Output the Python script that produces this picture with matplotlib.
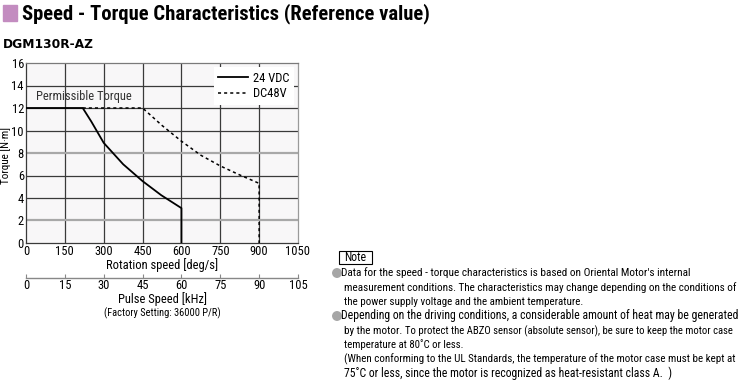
import matplotlib
matplotlib.use("Agg")
import matplotlib.pyplot as plt
from matplotlib.patches import Rectangle, Ellipse
from matplotlib import font_manager as fm

# ---------------- data ----------------
speed_24 = [0, 219, 252, 300, 375, 450, 522, 600, 600]
torque_24 = [12, 12, 10.8, 8.9, 7.0, 5.5, 4.25, 3.1, 0]
speed_48 = [219, 450, 525, 600, 675, 750, 825, 900, 900]
torque_48 = [12, 12, 10.45, 9.05, 7.8, 6.85, 6.05, 5.3, 0]
x_ticks = [0, 150, 300, 450, 600, 750, 900, 1050]
y_ticks = [0, 2, 4, 6, 8, 10, 12, 14, 16]
pulse_ticks = [0, 15, 30, 45, 60, 75, 90, 105]
series_labels = ["24 VDC", "DC48V"]

W, H = 747, 389
names = {f.name for f in fm.fontManager.ttflist}
cands = ["Roboto Condensed", "Archivo Narrow", "PT Sans Narrow",
         "Liberation Sans Narrow", "Asap Condensed", "Barlow Condensed"]
NARROW = [c for c in cands if c in names][:1]
FAM = NARROW + ["Liberation Sans", "DejaVu Sans"]
plt.rcParams['font.family'] = FAM

fig = plt.figure(figsize=(W / 100, H / 100), dpi=100)
fig.patch.set_facecolor("white")
renderer = fig.canvas.get_renderer()


def px(x, y):
    return x / W, 1 - y / H


def fit_text(x, y, s, width_px, size, **kw):
    t = fig.text(*px(x, y), s, fontsize=size, **kw)
    bb = t.get_window_extent(renderer=renderer)
    if bb.width > 0:
        t.set_fontsize(size * width_px / bb.width)
    return t


FS = 9

# ---------------- main axes ----------------
L, R, T, B = 26, 298, 63, 243
ax = fig.add_axes([L / W, 1 - B / H, (R - L) / W, (B - T) / H])
ax.set_facecolor("#f8f7f8")
ax.set_xlim(0, 1050)
ax.set_ylim(0, 16)
ax.set_xticks(x_ticks)
ax.set_yticks(y_ticks)
ax.set_xticklabels([str(v) for v in x_ticks], fontsize=FS)
ax.set_yticklabels([str(v) for v in y_ticks], fontsize=FS)
ax.tick_params(length=0, pad=1.5)
for v in x_ticks[1:-1]:
    ax.axvline(v, color="#3a3a3a", lw=0.9, zorder=1)
for v in y_ticks[1:-1]:
    if v in (2, 8):
        ax.axhline(v, color="#a8a8a8", lw=1.6, zorder=1)
    else:
        ax.axhline(v, color="#3a3a3a", lw=0.9, zorder=1)
for s in ax.spines.values():
    s.set_color("#3a3a3a")
    s.set_linewidth(0.9)
ax.spines["right"].set_color("#9a9a9a")
ax.spines["top"].set_color("#7a7a7a")

l1, = ax.plot(speed_24, torque_24, color="black", lw=1.3, zorder=3,
              solid_joinstyle="round")
l2, = ax.plot(speed_48, torque_48, color="black", lw=1.1, ls=(0, (2, 2)),
              zorder=3)
ax.text(225, 12.45, "Permissible Torque", fontsize=FS, ha="center",
        va="bottom", color="#333333", zorder=4)

leg = ax.legend([l1, l2], series_labels, loc="upper right", fontsize=FS,
                frameon=True, fancybox=False, handlelength=2.4,
                handletextpad=0.4, borderpad=0.35, labelspacing=0.2,
                borderaxespad=0.35)
leg.get_frame().set_facecolor("white")
leg.get_frame().set_edgecolor("none")
leg.get_frame().set_alpha(1)

fig.text(*px(6, 155), "Torque [N·m]", fontsize=8, rotation=90,
         ha="center", va="center")
fig.text(*px(162, 265), "Rotation speed [deg/s]", fontsize=FS,
         ha="center", va="center")

# ---------------- pulse speed axis ----------------
ax2 = fig.add_axes([L / W, 1 - 278 / H, (R - L) / W, 0.0001])
ax2.set_xlim(0, 105)
ax2.set_xticks(pulse_ticks)
ax2.set_xticklabels([str(v) for v in pulse_ticks], fontsize=FS)
ax2.set_yticks([])
for k in ("left", "right", "top"):
    ax2.spines[k].set_visible(False)
ax2.spines["bottom"].set_color("#888888")
ax2.spines["bottom"].set_linewidth(1.0)
ax2.tick_params(axis="x", direction="in", length=3, color="#888888", pad=1)
ax2.patch.set_visible(False)
fig.text(*px(162, 299), "Pulse Speed [kHz]", fontsize=FS, ha="center",
         va="center")
fig.text(*px(162, 313), "(Factory Setting: 36000 P/R)", fontsize=7.5,
         ha="center", va="center")

# ---------------- titles ----------------
fig.patches.append(Rectangle(px(3, 21), 14 / W, 16 / H, color="#c38cc0",
                             transform=fig.transFigure, figure=fig))
fit_text(22, 13.5, "Speed - Torque Characteristics (Reference value)", 408, 15,
         fontweight="bold", va="center", ha="left")
fit_text(3, 45, "DGM130R-AZ", 92, 9.5, fontweight="bold", va="center",
         ha="left", family=["DejaVu Sans"])

# ---------------- notes ----------------
fig.patches.append(Rectangle(px(339, 264), 33 / W, 13 / H, facecolor="white",
                             edgecolor="black", lw=0.8,
                             transform=fig.transFigure, figure=fig))
fig.text(*px(355.5, 257.5), "Note", fontsize=8.5, ha="center", va="center")

for yb in (273, 316):
    fig.patches.append(Ellipse(px(337, yb), 8.5 / W, 8.5 / H, color="#a6a6a6",
                               transform=fig.transFigure, figure=fig))

lines = [
    (341, 273, "Data for the speed - torque characteristics is based on Oriental Motor's internal", 351),
    (344, 288, "measurement conditions. The characteristics may change depending on the conditions of", 394),
    (344, 302, "the power supply voltage and the ambient temperature.", 239),
    (341, 316, "Depending on the driving conditions, a considerable amount of heat may be generated", 397),
    (344, 345, "temperature at 80˚C or less.", 119),
    (344, 359, "(When conforming to the UL Standards, the temperature of the motor case must be kept at", 394),
    (344, 373, "75˚C or less, since the motor is recognized as heat-resistant class A.  )", 328),
]
for x, y, s, w in lines:
    fit_text(x, y, s, w, 9, va="center", ha="left")
fit_text(344, 331, "by the motor.", 58, 9, va="center", ha="left")
fit_text(405, 331, "To protect the ABZO sensor (absolute sensor), be sure to keep the motor case",
         329, 8, va="center", ha="left")

fig.savefig("out.png", dpi=100, facecolor="white")
